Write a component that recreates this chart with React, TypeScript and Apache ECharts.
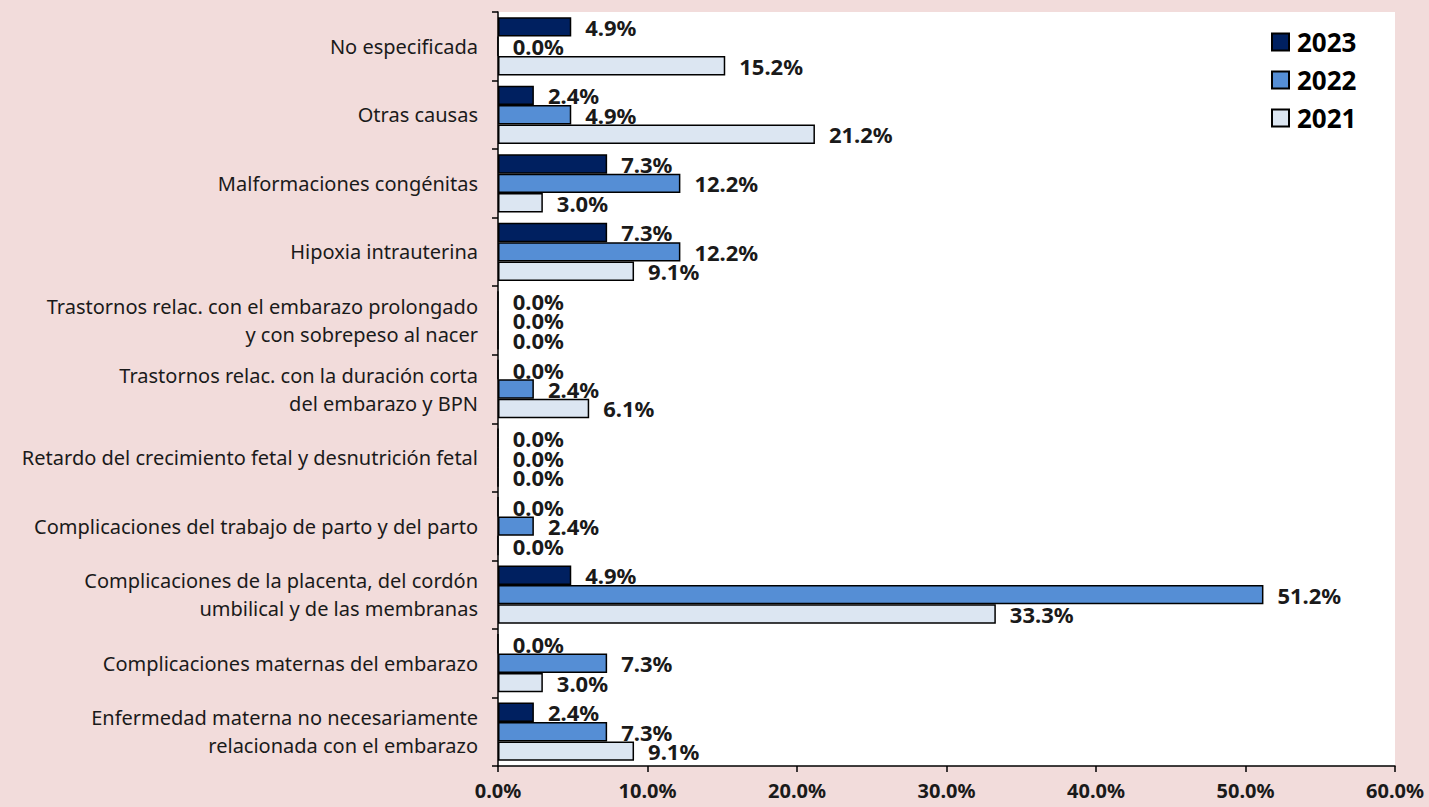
import React, { useEffect, useRef } from "react";
import * as echarts from "echarts";

const categories = [
  "No especificada",
  "Otras causas",
  "Malformaciones congénitas",
  "Hipoxia intrauterina",
  "Trastornos relac. con el embarazo prolongado\ny con sobrepeso al nacer",
  "Trastornos relac. con la duración corta\ndel embarazo y BPN",
  "Retardo del crecimiento fetal y desnutrición fetal",
  "Complicaciones del trabajo de parto y del parto",
  "Complicaciones de la placenta, del cordón\numbilical y de las membranas",
  "Complicaciones maternas del embarazo",
  "Enfermedad materna no necesariamente\nrelacionada con el embarazo",
];

const values2023 = [4.9, 2.4, 7.3, 7.3, 0.0, 0.0, 0.0, 0.0, 4.9, 0.0, 2.4];
const values2022 = [0.0, 4.9, 12.2, 12.2, 0.0, 2.4, 0.0, 2.4, 51.2, 7.3, 7.3];
const values2021 = [15.2, 21.2, 3.0, 9.1, 0.0, 6.1, 0.0, 0.0, 33.3, 3.0, 9.1];

const seriesNames = ["2023", "2022", "2021"];
const seriesColors = ["#002060", "#558ED5", "#DCE6F2"];

const FONT = "'Noto Sans', sans-serif";

export default function App() {
  const ref = useRef<HTMLDivElement>(null);

  useEffect(() => {
    if (!ref.current) return;
    const chart = echarts.init(ref.current, undefined, { renderer: "svg" });
    const datasets = [values2023, values2022, values2021];
    chart.setOption({
      animation: false,
      backgroundColor: "#F2DCDB",
      textStyle: { fontFamily: FONT },
      legend: {
        orient: "vertical",
        left: 1266,
        top: 24,
        icon: "rect",
        itemWidth: 17,
        itemHeight: 17,
        itemGap: 12,
        data: seriesNames,
        textStyle: {
          fontSize: 26,
          fontWeight: "bold",
          color: "#000",
          fontFamily: FONT,
          padding: [0, 0, 0, 3],
        },
      },
      grid: {
        left: 498,
        right: 34,
        top: 12,
        bottom: 41,
        show: true,
        backgroundColor: "#FFFFFF",
        borderWidth: 0,
      },
      xAxis: {
        type: "value",
        min: 0,
        max: 60,
        interval: 10,
        splitLine: { show: false },
        axisLine: { show: true, lineStyle: { color: "#000", width: 1.5 } },
        axisTick: { show: true, length: 6, lineStyle: { color: "#000", width: 1.5 } },
        axisLabel: {
          formatter: (v: number) => v.toFixed(1) + "%",
          fontSize: 20,
          fontWeight: "bold",
          color: "#1a1a1a",
          margin: 14,
          fontFamily: FONT,
        },
      },
      yAxis: {
        type: "category",
        data: categories,
        inverse: true,
        axisLine: { show: true, lineStyle: { color: "#000", width: 1.5 } },
        axisTick: { show: true, length: 6, lineStyle: { color: "#000", width: 1.5 } },
        axisLabel: {
          fontSize: 20,
          color: "#1a1a1a",
          margin: 20,
          align: "right",
          lineHeight: 28,
          fontFamily: FONT,
        },
      },
      series: seriesNames.map((name, i) => ({
        name,
        type: "bar",
        data: datasets[i],
        barGap: "0%",
        barCategoryGap: "15%",
        itemStyle: {
          color: seriesColors[i],
          borderColor: "#000",
          borderWidth: 1.5,
        },
        label: {
          show: true,
          position: "right",
          distance: 14,
          formatter: (p: any) => Number(p.value).toFixed(1) + "%",
          fontSize: 22,
          fontWeight: "bold",
          color: "#1a1a1a",
          fontFamily: FONT,
        },
      })),
    });
    return () => chart.dispose();
  }, []);

  return <div ref={ref} style={{ width: 1429, height: 807, position: "absolute", left: 0, top: 0 }} />;
}
